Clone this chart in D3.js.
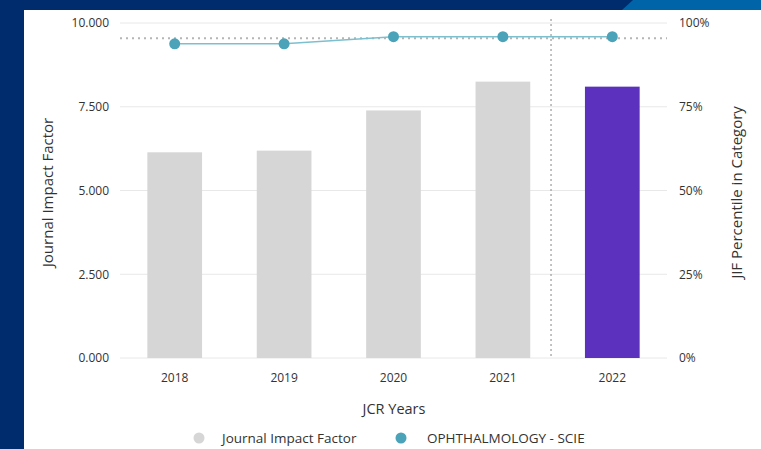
<!DOCTYPE html>
<html>
<head>
<meta charset="utf-8">
<script src="https://cdn.jsdelivr.net/npm/d3@7"></script>
<style>
  html, body { margin: 0; padding: 0; background: #002b6c; }
  svg { display: block; font-family: "Open Sans", Lato, sans-serif; }
</style>
</head>
<body>
<svg id="chart" width="761" height="449"></svg>
<script>
// JCR history: impact factor bars and category percentile line
const years = ["2018", "2019", "2020", "2021", "2022"];
const impactFactor = [6.14, 6.19, 7.39, 8.25, 8.1];
const percentile = [93.8, 93.8, 95.9, 95.9, 95.9];
const jifTicks = [0, 2.5, 5, 7.5, 10];
const pctTicks = [0, 25, 50, 75, 100];
const currentYear = "2022";
const legendLabels = ["Journal Impact Factor", "OPHTHALMOLOGY - SCIE"];

const svg = d3.select("#chart");
const W = 761, H = 449;
const FONT = "'Open Sans', Lato, sans-serif";
const INK = "#333333";

// page frame: navy backdrop, lighter blue banner, white card
svg.append("rect").attr("width", W).attr("height", H).attr("fill", "#002b6c");
svg.append("path").attr("d", "M633,0 L761,0 L761,10 L622,10 Z").attr("fill", "#0064a8");
svg.append("rect").attr("x", 24).attr("y", 10).attr("width", W - 24).attr("height", H - 10).attr("fill", "#ffffff");

const plot = { left: 120, right: 667, top: 23, bottom: 358 };

const x = d3.scaleBand().domain(years).range([plot.left, plot.right]).paddingInner(0.5).paddingOuter(0.25);
const yL = d3.scaleLinear().domain([0, 10]).range([plot.bottom, plot.top]);
const yR = d3.scaleLinear().domain([0, 100]).range([plot.bottom, plot.top]);

// gridlines
svg.append("g").selectAll("line").data(jifTicks).join("line")
  .attr("x1", plot.left).attr("x2", plot.right)
  .attr("y1", d => yL(d)).attr("y2", d => yL(d))
  .attr("stroke", "#e8e8e8").attr("stroke-width", 1);

function styleTicks(g) {
  g.select(".domain").remove();
  g.selectAll("text").attr("font-size", 12).attr("fill", INK).attr("font-family", FONT);
}

// left axis
svg.append("g").attr("transform", `translate(${plot.left - 11},0)`)
  .call(d3.axisLeft(yL).tickValues(jifTicks).tickSize(0).tickPadding(0).tickFormat(d3.format(".3f")))
  .call(styleTicks);

// right axis
svg.append("g").attr("transform", `translate(${plot.right + 12},0)`)
  .call(d3.axisRight(yR).tickValues(pctTicks).tickSize(0).tickPadding(0).tickFormat(d => d + "%"))
  .call(styleTicks);

// bottom axis
svg.append("g").attr("transform", `translate(0,${plot.bottom + 15})`)
  .call(d3.axisBottom(x).tickSize(0).tickPadding(0))
  .call(styleTicks);

// bars
svg.append("g").selectAll("rect").data(years).join("rect")
  .attr("x", d => x(d))
  .attr("width", x.bandwidth())
  .attr("y", (d, i) => yL(impactFactor[i]))
  .attr("height", (d, i) => yL(0) - yL(impactFactor[i]))
  .attr("fill", d => d === currentYear ? "#5b31bd" : "#d6d6d6");

// current-year divider
const divX = x(currentYear) + x.bandwidth() / 2 - x.step() * 0.56;
svg.append("line")
  .attr("x1", divX).attr("x2", divX)
  .attr("y1", plot.top - 4).attr("y2", plot.bottom)
  .attr("stroke", "#9a9a9a").attr("stroke-width", 1.2).attr("stroke-dasharray", "2,3");

// reference line at the current percentile
const curPct = percentile[years.indexOf(currentYear)];
svg.append("line")
  .attr("x1", plot.left).attr("x2", plot.right)
  .attr("y1", yR(curPct) + 1.5).attr("y2", yR(curPct) + 1.5)
  .attr("stroke", "#b5b5b5").attr("stroke-width", 2).attr("stroke-dasharray", "2,4");

// percentile line and points
const cx = d => x(d) + x.bandwidth() / 2;
svg.append("path")
  .datum(years)
  .attr("d", d3.line().x(cx).y((d, i) => yR(percentile[i])))
  .attr("fill", "none").attr("stroke", "#7cc0cf").attr("stroke-width", 1.5);
svg.append("g").selectAll("circle").data(years).join("circle")
  .attr("cx", cx).attr("cy", (d, i) => yR(percentile[i]))
  .attr("r", 5.5).attr("fill", "#4aa3b8");

// axis titles
const midY = (plot.top + plot.bottom) / 2 + 2;
svg.append("text")
  .attr("transform", `translate(53,${midY}) rotate(-90)`)
  .attr("text-anchor", "middle").attr("font-size", 15).attr("fill", INK)
  .text("Journal Impact Factor");
svg.append("text")
  .attr("transform", `translate(742,${midY}) rotate(-90)`)
  .attr("text-anchor", "middle").attr("font-size", 15).attr("fill", INK)
  .text("JIF Percentile in Category");
svg.append("text")
  .attr("x", 394).attr("y", 414)
  .attr("text-anchor", "middle").attr("font-size", 14.5).attr("fill", INK)
  .text("JCR Years");

// legend
const legendColors = ["#d6d6d6", "#4aa3b8"];
const legendX = [199, 401];
const legend = svg.append("g").selectAll("g").data(legendLabels).join("g")
  .attr("transform", (d, i) => `translate(${legendX[i]},438)`);
legend.append("circle").attr("r", 5.5).attr("fill", (d, i) => legendColors[i]);
legend.append("text").attr("x", (d, i) => i ? 26 : 23).attr("y", 4.5).attr("font-size", 13.5).attr("fill", INK).text(d => d);
</script>
</body>
</html>
